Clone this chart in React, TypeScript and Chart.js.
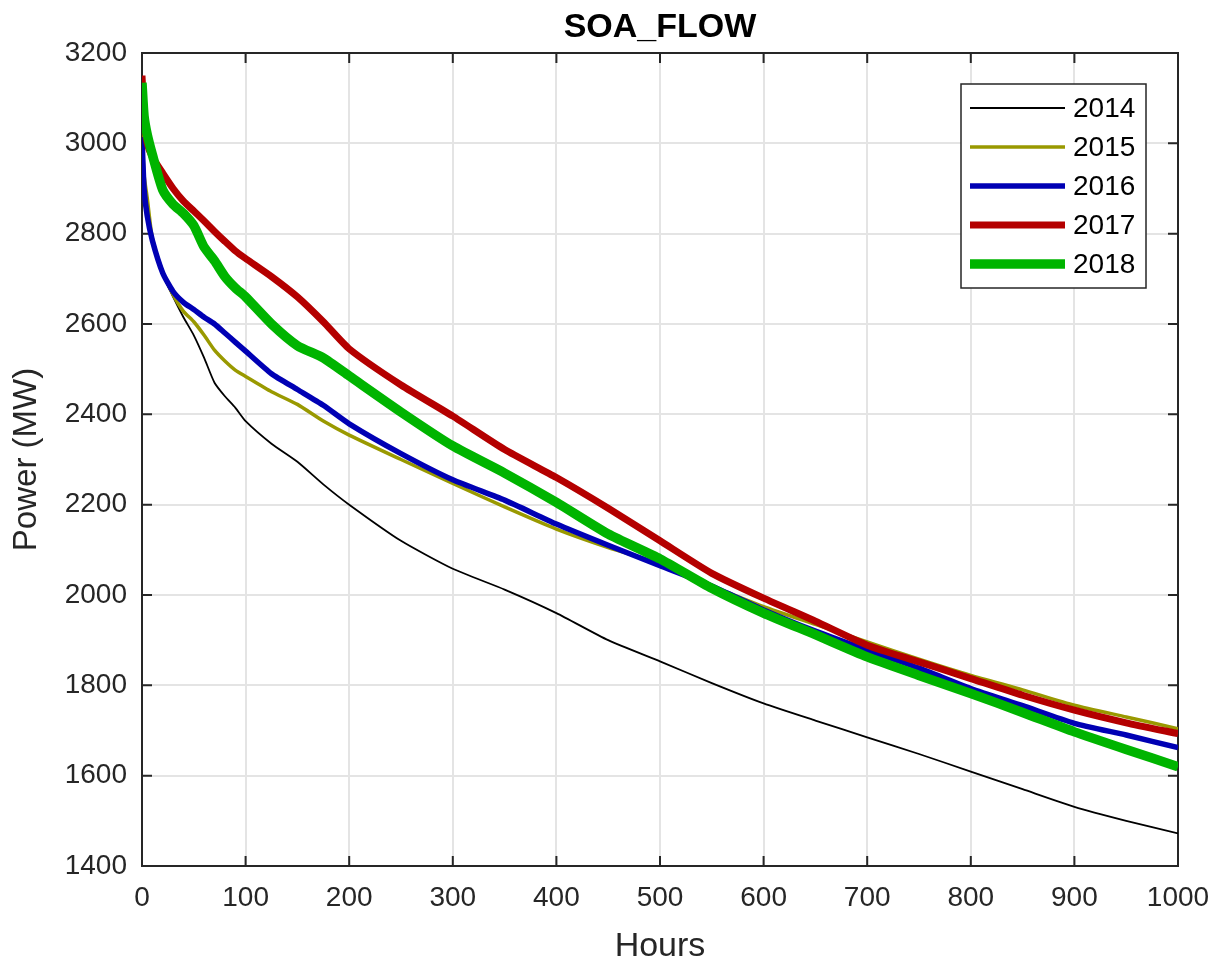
import React, { useEffect, useRef } from "react";
import { Chart, registerables } from "chart.js";

Chart.register(...registerables);

const hours = [0, 2, 5, 10, 20, 30, 40, 50, 60, 70, 80, 90, 100, 125, 150, 175, 200, 250, 300, 350, 400, 450, 500, 550, 600, 650, 700, 750, 800, 850, 900, 950, 1000];

const y2014 = [3000, 2900, 2830, 2780, 2710, 2660, 2615, 2575, 2525, 2470, 2440, 2415, 2385, 2335, 2295, 2245, 2200, 2120, 2058, 2012, 1960, 1900, 1853, 1805, 1760, 1722, 1685, 1648, 1609, 1570, 1531, 1500, 1472];
const y2015 = [3020, 2930, 2880, 2790, 2715, 2665, 2628, 2605, 2575, 2542, 2518, 2498, 2484, 2450, 2422, 2385, 2354, 2300, 2247, 2195, 2146, 2105, 2069, 2020, 1974, 1935, 1896, 1858, 1822, 1790, 1756, 1730, 1704];
const y2016 = [3014, 2900, 2840, 2785, 2713, 2672, 2648, 2632, 2615, 2600, 2580, 2560, 2540, 2490, 2455, 2420, 2379, 2313, 2255, 2210, 2157, 2110, 2065, 2020, 1967, 1920, 1878, 1838, 1793, 1755, 1716, 1690, 1662];
const y2017 = [3150, 3060, 3000, 2970, 2934, 2900, 2872, 2850, 2828, 2805, 2783, 2762, 2745, 2705, 2660, 2605, 2545, 2465, 2396, 2322, 2260, 2192, 2120, 2048, 1993, 1942, 1889, 1852, 1815, 1778, 1745, 1717, 1693];
const y2018 = [3134, 3060, 3020, 2975, 2897, 2865, 2845, 2818, 2770, 2740, 2705, 2680, 2660, 2600, 2552, 2525, 2485, 2405, 2330, 2270, 2205, 2135, 2080, 2015, 1960, 1912, 1863, 1822, 1782, 1740, 1697, 1658, 1620];

const seriesNames = ["2014", "2015", "2016", "2017", "2018"];
const seriesValues = [y2014, y2015, y2016, y2017, y2018];
const seriesColors = ["#000000", "#999900", "#0000b4", "#b40000", "#00b400"];
const seriesWidths = [1.8, 3.5, 5.5, 7, 9.5];

const xTicks = [0, 100, 200, 300, 400, 500, 600, 700, 800, 900, 1000];
const yTicks = [1400, 1600, 1800, 2000, 2200, 2400, 2600, 2800, 3000, 3200];

const FONT = "'Liberation Sans', Arial, Helvetica, sans-serif";
const AXIS = "#262626";

const boxPlugin = {
  id: "matlabBox",
  beforeDatasetsDraw(chart: any) {
    const { ctx, chartArea, scales } = chart;
    const { left, right, top, bottom } = chartArea;
    ctx.save();
    ctx.strokeStyle = AXIS;
    ctx.lineWidth = 2;
    ctx.strokeRect(left, top, right - left, bottom - top);
    const tl = 10;
    ctx.beginPath();
    xTicks.forEach((t) => {
      const x = scales.x.getPixelForValue(t);
      ctx.moveTo(x, bottom);
      ctx.lineTo(x, bottom - tl);
      ctx.moveTo(x, top);
      ctx.lineTo(x, top + tl);
    });
    yTicks.forEach((t) => {
      const y = scales.y.getPixelForValue(t);
      ctx.moveTo(left, y);
      ctx.lineTo(left + tl, y);
      ctx.moveTo(right, y);
      ctx.lineTo(right - tl, y);
    });
    ctx.stroke();
    ctx.restore();
  },
  afterDraw(chart: any) {
    const { ctx } = chart;
    ctx.save();
    const bx = 961, by = 84, bw = 185, bh = 204;
    ctx.fillStyle = "#ffffff";
    ctx.fillRect(bx, by, bw, bh);
    ctx.strokeStyle = AXIS;
    ctx.lineWidth = 1.5;
    ctx.strokeRect(bx, by, bw, bh);
    ctx.font = `28px ${FONT}`;
    ctx.textBaseline = "middle";
    ctx.textAlign = "left";
    seriesNames.forEach((name, i) => {
      const y = 108 + i * 39;
      ctx.strokeStyle = seriesColors[i];
      ctx.lineWidth = seriesWidths[i];
      ctx.lineCap = "butt";
      ctx.beginPath();
      ctx.moveTo(970, y);
      ctx.lineTo(1065, y);
      ctx.stroke();
      ctx.fillStyle = "#000000";
      ctx.fillText(name, 1073, y + 1);
    });
    ctx.restore();
  },
};

export default function App() {
  const ref = useRef<HTMLCanvasElement>(null);
  useEffect(() => {
    if (!ref.current) return;
    const datasets = seriesNames.map((name, i) => ({
      label: name,
      data: hours.map((h, k) => ({ x: h, y: seriesValues[i][k] })),
      borderColor: seriesColors[i],
      backgroundColor: seriesColors[i],
      borderWidth: seriesWidths[i],
      pointRadius: 0,
      tension: 0.2,
      fill: false,
      borderJoinStyle: "round" as const,
      order: seriesNames.length - 1 - i,
    }));
    const chart = new Chart(ref.current, {
      type: "line",
      data: { datasets },
      options: {
        animation: false,
        responsive: false,
        layout: { padding: 0 },
        plugins: {
          legend: { display: false },
          tooltip: { enabled: false },
          title: {
            display: true,
            text: "SOA_FLOW",
            fullSize: false,
            color: "#000000",
            font: { family: FONT, size: 34, weight: "bold", lineHeight: 1 },
            padding: { top: 11, bottom: 8 },
          },
        },
        scales: {
          x: {
            type: "linear",
            min: 0,
            max: 1000,
            afterFit(scale: any) {
              scale.height = 94;
              scale.paddingLeft = 0;
              scale.paddingRight = 38;
            },
            afterBuildTicks(scale: any) {
              scale.ticks = xTicks.map((v) => ({ value: v }));
            },
            ticks: {
              color: AXIS,
              font: { family: FONT, size: 28 },
              padding: 15,
              maxRotation: 0,
              autoSkip: false,
              callback: (v: any) => String(v),
            },
            grid: { color: "#e4e4e4", lineWidth: 2, drawTicks: false },
            border: { display: false },
            title: {
              display: true,
              text: "Hours",
              color: AXIS,
              font: { family: FONT, size: 34, lineHeight: 0.76 },
              padding: { top: 0, bottom: 0 },
            },
          },
          y: {
            type: "linear",
            min: 1400,
            max: 3200,
            afterFit(scale: any) {
              scale.width = 142;
            },
            afterBuildTicks(scale: any) {
              scale.ticks = yTicks.map((v) => ({ value: v }));
            },
            ticks: {
              color: AXIS,
              font: { family: FONT, size: 28 },
              padding: 15,
              autoSkip: false,
              callback: (v: any) => String(v),
            },
            grid: { color: "#e4e4e4", lineWidth: 2, drawTicks: false },
            border: { display: false },
            title: {
              display: true,
              text: "Power (MW)",
              color: AXIS,
              font: { family: FONT, size: 33, lineHeight: 0.76 },
              padding: { top: 14, bottom: 0 },
            },
          },
        },
      },
      plugins: [boxPlugin],
    });
    return () => chart.destroy();
  }, []);
  return (
    <div style={{ position: "absolute", left: 0, top: 0, width: 1216, height: 960, background: "#ffffff" }}>
      <canvas ref={ref} width={1216} height={960} style={{ display: "block" }} />
    </div>
  );
}
